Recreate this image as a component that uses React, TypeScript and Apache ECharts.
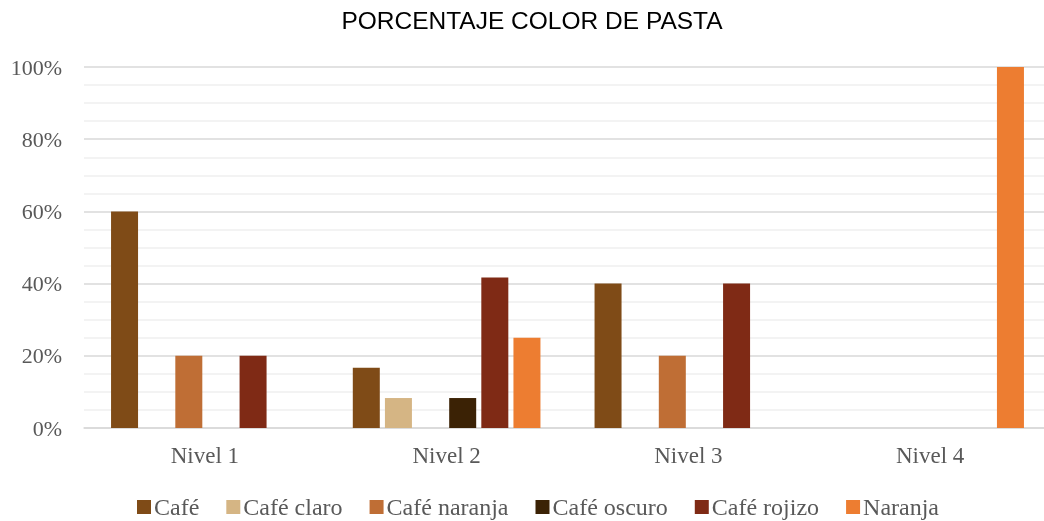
import React, { useEffect, useRef } from "react";
import * as echarts from "echarts";

const categories = ["Nivel 1", "Nivel 2", "Nivel 3", "Nivel 4"];
const seriesNames = ["Café", "Café claro", "Café naranja", "Café oscuro", "Café rojizo", "Naranja"];
const cafe = [60, 16.7, 40, 0];
const cafeClaro = [0, 8.3, 0, 0];
const cafeNaranja = [20, 0, 20, 0];
const cafeOscuro = [0, 8.3, 0, 0];
const cafeRojizo = [20, 41.7, 40, 0];
const naranja = [0, 25, 0, 100];
const seriesValues = [cafe, cafeClaro, cafeNaranja, cafeOscuro, cafeRojizo, naranja];
const colors = ["#7f4b17", "#d5b584", "#bf6e35", "#3b2205", "#7f2a15", "#ed7d31"];
const yTicks = [0, 20, 40, 60, 80, 100];

export default function App() {
  const ref = useRef<HTMLDivElement>(null);
  useEffect(() => {
    if (!ref.current) return;
    const chart = echarts.init(ref.current, null, { renderer: "svg" });
    const serif = "Liberation Serif";
    chart.setOption({
      animation: false,
      title: {
        text: "PORCENTAJE COLOR DE PASTA",
        left: 532,
        top: 8,
        padding: 0,
        textAlign: "center",
        textStyle: { fontFamily: "Liberation Sans", fontSize: 24.5, fontWeight: "normal", color: "#000" },
      },
      legend: {
        top: 495,
        left: 137,
        padding: 0,
        icon: "rect",
        itemWidth: 14,
        itemHeight: 14,
        itemGap: 27,
        textStyle: { fontFamily: serif, fontSize: 24, color: "#595959", padding: [0, 0, 0, -2] },
        data: seriesNames,
      },
      grid: { left: 84, top: 67, width: 967, height: 361, containLabel: false },
      xAxis: {
        type: "category",
        data: categories,
        axisTick: { show: false },
        axisLine: { lineStyle: { color: "#d9d9d9", width: 1.5 } },
        axisLabel: { fontFamily: serif, fontSize: 23, color: "#595959", margin: 16 },
      },
      yAxis: {
        type: "value",
        min: yTicks[0],
        max: yTicks[yTicks.length - 1],
        interval: 20,
        axisLine: { show: false },
        axisTick: { show: false },
        axisLabel: { fontFamily: serif, fontSize: 22, color: "#595959", margin: 22, formatter: "{value}%" },
        splitLine: { lineStyle: { color: "#d9d9d9", width: 1.5 } },
        minorTick: { show: false, splitNumber: 4 },
        minorSplitLine: { show: true, lineStyle: { color: "#efefef", width: 1.5 } },
      },
      series: seriesNames.map((name, i) => ({
        name,
        type: "bar",
        data: seriesValues[i],
        barWidth: 27,
        barGap: "19%",
        itemStyle: { color: colors[i] },
      })),
    });
    return () => chart.dispose();
  }, []);
  return (
    <div style={{ position: "fixed", left: 0, top: 0, width: 1044, height: 521, overflow: "hidden" }}>
      <div ref={ref} style={{ width: 1051, height: 521 }} />
    </div>
  );
}
